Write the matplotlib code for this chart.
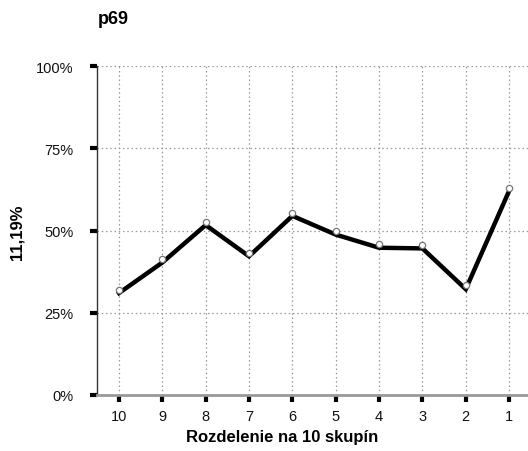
import matplotlib
matplotlib.use("Agg")
import matplotlib.pyplot as plt
from matplotlib.ticker import FuncFormatter

plt.rcParams['font.family'] = ['Liberation Sans', 'DejaVu Sans']

categories = ['10', '9', '8', '7', '6', '5', '4', '3', '2', '1']
line_values = [31.0, 40.3, 51.7, 42.2, 54.5, 48.8, 44.8, 44.6, 32.2, 62.1]
marker_values = [32.0, 41.4, 52.7, 43.2, 55.4, 49.9, 46.0, 45.7, 33.4, 63.0]
y_ticks = [0, 25, 50, 75, 100]

fig = plt.figure(figsize=(5.28, 4.52), dpi=100)
ax = fig.add_axes([0.1843, 0.1239, 0.821, 0.7272])

x = list(range(len(categories)))
ax.plot(x, line_values, color='black', lw=3.2, solid_joinstyle='miter', zorder=3)
ax.plot(x, marker_values, ls='none', marker='o', ms=4.5, mfc='white',
        mec='#777777', mew=0.9, zorder=4)

ax.set_xlim(-0.5, 9.5)
ax.set_ylim(0, 100)
ax.set_xticks(x)
ax.set_xticklabels(categories)
ax.set_yticks(y_ticks)
ax.yaxis.set_major_formatter(FuncFormatter(lambda v, p: f"{int(v)}%"))

ax.grid(True, color='#999999', ls=(0, (1.2, 2.2)), lw=0.9)
ax.set_axisbelow(True)

for s in ['top', 'right']:
    ax.spines[s].set_visible(False)
ax.spines['left'].set_color('#333333')
ax.spines['left'].set_linewidth(1.0)
ax.spines['bottom'].set_color('#999999')
ax.spines['bottom'].set_linewidth(2.0)

ax.tick_params(axis='both', length=5, width=3, color='black', labelsize=10.5,
               labelcolor='#111111')
ax.tick_params(axis='x', pad=5)
ax.tick_params(axis='y', pad=12)

fig.text(97.5 / 528, 1 - 20 / 452, 'p69', fontsize=13, fontweight='bold',
         ha='left', va='center')
fig.text(282 / 528, 1 - 438 / 452, 'Rozdelenie na 10 skupín', fontsize=12,
         fontweight='bold', ha='center', va='center')
fig.text(17 / 528, 1 - 232 / 452, '11,19%', fontsize=12, fontweight='bold',
         ha='center', va='center', rotation=90)

fig.savefig('out.png', dpi=100)
